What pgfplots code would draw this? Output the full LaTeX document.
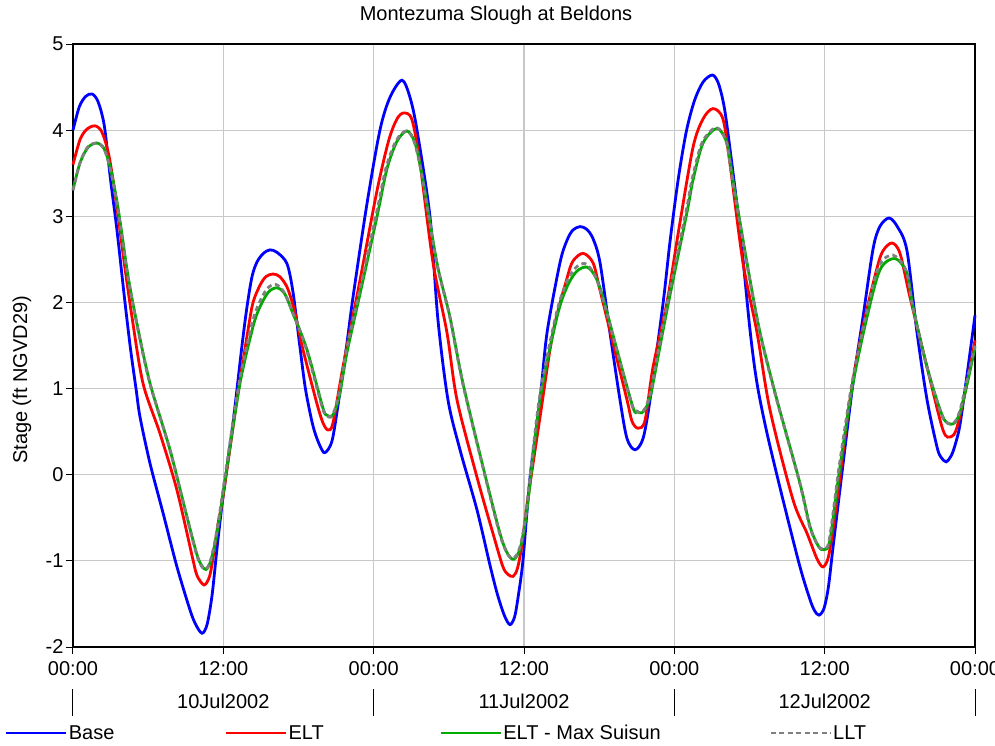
\documentclass[border=0pt]{standalone}
\usepackage{pgfplots}
\pgfplotsset{compat=1.18}
\usepackage{fontspec}
\setmainfont{Liberation Sans}
\definecolor{cBase}{RGB}{0,0,255}
\definecolor{cELT}{RGB}{255,0,0}
\definecolor{cMax}{RGB}{0,170,0}
\definecolor{cLLT}{RGB}{128,128,128}
\definecolor{cGrid}{RGB}{200,200,200}
\begin{document}
\begin{tikzpicture}[font=\fontsize{20}{24}\selectfont]
\begin{axis}[
  at={(0,0)}, anchor=south west,
  scale only axis, width=902pt, height=603pt,
  xmin=0, xmax=72, ymin=-2, ymax=5,
  clip=false,
  axis line style={black, line width=1.5pt},
  xtick={0,12,24,36,48,60,72},
  xticklabels={00:00,12:00,00:00,12:00,00:00,12:00,00:00},
  ytick={-2,-1,0,1,2,3,4,5},
  yticklabels={-2,-1,0,1,2,3,4,5},
  tick pos=left, tick align=outside,
  major tick length=7pt,
  tick style={black, line width=1pt},
  grid=major,
  major grid style={cGrid, line width=1.2pt},
  xticklabel style={yshift=-4pt},
  yticklabel style={xshift=1pt},
  title={Montezuma Slough at Beldons},
  title style={at={(axis description cs:0.5,1)}, anchor=center, yshift=23pt, xshift=-28pt},
  ylabel={Stage (ft NGVD29)},
  ylabel style={at={(axis description cs:-0.0565,0.443)}, anchor=center},
  legend columns=4,
  legend style={at={(axis description cs:-0.0754,-0.1426)}, anchor=west,
    draw=none, fill=none, inner sep=0pt, outer sep=0pt,
    nodes={inner sep=0pt, outer sep=0pt},
    /tikz/every odd column/.append style={column sep=1pt}},
  legend cell align=left,
  legend image code/.code={\draw[#1] (0pt,0pt) -- (60pt,0pt);},
  every axis plot/.append style={line width=2.8pt, smooth, tension=0.5},
]
\addplot[cBase] coordinates {
(0,4.00) (0.5,4.27) (1.0,4.39) (1.52,4.42) (2.0,4.33) (2.5,4.05) (3.0,3.42)
(3.5,2.85) (4.15,2.0) (4.6,1.45) (5.03,1.0) (5.35,0.67) (6.15,0.13) (7.18,-0.44)
(8.3,-1.07) (9.34,-1.57) (9.8,-1.74) (10.3,-1.84) (10.7,-1.74) (11.1,-1.4)
(11.5,-0.85) (11.97,-0.26) (12.77,0.6) (13.49,1.5) (13.89,1.95) (14.29,2.3)
(14.69,2.47) (15.2,2.57) (15.72,2.61) (16.3,2.58) (17.08,2.45) (17.56,2.12)
(18.1,1.5) (18.55,1.0) (19.1,0.6) (19.5,0.41) (20.0,0.26) (20.4,0.3) (20.75,0.44)
(21.3,0.95) (21.87,1.53) (22.35,2.06) (23.47,3.15) (24.5,4.0) (25.3,4.38)
(26.26,4.58) (26.9,4.38) (27.46,4.0) (28.5,2.99) (29.13,1.8) (29.93,0.87)
(30.89,0.29) (32.25,-0.41) (33.3,-1.06) (33.9,-1.4) (34.45,-1.64) (34.88,-1.74)
(35.25,-1.65) (35.55,-1.4) (35.92,-0.99) (36.48,-0.03) (37.28,0.87) (37.84,1.65)
(38.87,2.46) (39.43,2.72) (39.9,2.84) (40.47,2.88) (41.0,2.85) (41.51,2.74)
(42.07,2.46) (42.86,1.65) (43.66,0.87) (44.22,0.42) (44.86,0.29) (45.5,0.42)
(46.06,0.87) (47.1,1.99) (47.65,2.7) (48.3,3.42) (48.95,3.98) (49.6,4.34) (50.3,4.56)
(51.04,4.64) (51.5,4.55) (51.9,4.33) (52.25,4.0) (53.24,2.84) (54.04,1.68) (54.6,1.06) (55.4,0.48)
(56.67,-0.29) (58.03,-1.07) (58.83,-1.45) (59.2,-1.58) (59.55,-1.63)
(59.95,-1.55) (60.3,-1.3) (60.66,-0.85) (61.38,0.02) (62.26,1.06) (63.06,1.83)
(63.86,2.62) (64.4,2.88) (65.13,2.98) (65.8,2.88) (66.57,2.6) (67.37,1.65)
(68.17,0.87) (68.97,0.32) (69.3,0.2) (69.7,0.15) (70.1,0.22) (70.4,0.34)
(70.8,0.58) (71.4,1.2) (72,1.85)
};
\addlegendentry{\makebox[156pt][l]{Base}}
\addplot[cELT] coordinates {
(0,3.6) (0.56,3.89) (1.1,4.01) (1.76,4.05) (2.3,3.98) (2.8,3.75) (3.2,3.42)
(3.6,3.0) (4.1,2.45) (4.71,1.83) (5.59,1.06) (6.94,0.48) (8.3,-0.18)
(9.58,-0.99) (9.9,-1.17) (10.46,-1.28) (10.9,-1.18) (11.25,-0.9) (11.6,-0.55)
(11.97,-0.26) (13.09,0.87) (13.97,1.68) (14.37,2.0) (14.93,2.2) (15.4,2.3)
(15.96,2.33) (16.5,2.3) (17.08,2.18) (17.56,1.97) (17.96,1.72) (18.36,1.45)
(19.48,0.82) (19.96,0.6) (20.35,0.52) (20.75,0.6) (21.55,1.25) (22.91,2.26)
(24.27,3.3) (25.2,3.88) (25.86,4.13) (26.42,4.2) (27.06,4.12) (27.7,3.61)
(28.74,2.46) (29.85,1.65) (30.65,0.87) (32.25,-0.03) (33.52,-0.68) (34.32,-1.07)
(34.75,-1.16) (35.12,-1.18) (35.45,-1.1) (35.8,-0.85) (36.24,-0.35) (37.28,0.67)
(38.31,1.65) (39.43,2.28) (39.91,2.48) (40.71,2.57) (41.51,2.46) (42.07,2.14)
(43.1,1.53) (44.22,0.87) (44.62,0.62) (45.1,0.54) (45.66,0.63) (46.3,1.25)
(47.41,2.0) (48.35,2.84) (49.49,3.8) (50.29,4.13) (51.09,4.25) (51.88,4.13)
(52.44,3.61) (53.48,2.46) (54.6,1.65) (55.64,0.75) (57.47,-0.29) (58.59,-0.68)
(59.4,-0.98) (59.87,-1.07) (60.27,-0.97) (60.6,-0.7) (60.98,-0.3) (62.02,0.87)
(63.06,1.72) (64.18,2.4) (64.66,2.6) (65.37,2.69) (66.01,2.57) (66.81,2.06)
(68.17,1.25) (69.44,0.52) (70.08,0.44) (70.56,0.55) (71.36,1.06) (72,1.56)
};
\addlegendentry{\makebox[151pt][l]{ELT}}
\addplot[cMax] coordinates {
(0,3.31) (0.56,3.62) (1.2,3.8) (1.92,3.85) (2.5,3.78) (3.0,3.55) (3.5,3.18)
(3.9,2.8) (4.4,2.3) (5.11,1.75) (6.15,1.06) (7.74,0.29) (9.1,-0.49) (9.9,-0.93)
(10.3,-1.06) (10.62,-1.1) (10.95,-1.02) (11.3,-0.82) (11.7,-0.5) (12.29,0.09)
(13.33,1.06) (14.37,1.72) (14.93,1.95) (15.6,2.12) (16.28,2.17) (16.9,2.1)
(17.56,1.87) (18.68,1.45) (19.96,0.77) (20.3,0.69) (20.59,0.67) (20.9,0.74)
(21.31,0.95) (21.87,1.42) (22.91,2.1) (24.27,3.0) (25.06,3.55) (25.86,3.87)
(26.66,3.99) (27.3,3.85) (27.94,3.42) (29.05,2.46) (30.09,1.83) (31.13,1.06)
(32.73,0.09) (34.08,-0.68) (34.7,-0.92) (35.2,-0.98) (35.7,-0.85) (36.2,-0.45)
(37.28,0.87) (38.63,1.83) (39.43,2.18) (40.2,2.36) (41.03,2.41) (41.7,2.3)
(42.3,2.06) (43.42,1.45) (44.7,0.78) (45.05,0.73) (45.42,0.72) (45.75,0.78)
(46.06,0.9) (46.3,1.06) (47.41,1.91) (49.0,3.04) (49.49,3.42) (50.29,3.85)
(51.4,4.02) (52.2,3.85) (52.68,3.42) (53.8,2.46) (54.84,1.65) (56.19,0.87)
(58.03,-0.1) (58.83,-0.6) (59.5,-0.83) (59.95,-0.87) (60.42,-0.76) (61.22,0.09)
(62.26,1.06) (63.38,1.83) (64.42,2.38) (65.61,2.51) (66.57,2.34) (67.05,1.95)
(68.17,1.25) (69.44,0.67) (70.24,0.59) (70.8,0.72) (71.44,1.1) (72,1.48)
};
\addlegendentry{\makebox[266pt][l]{ELT - Max Suisun}}
\addplot[cLLT, dash pattern=on 5pt off 3.5pt] coordinates {
(0,3.3) (0.56,3.62) (1.15,3.8) (1.85,3.85) (2.45,3.79) (2.95,3.56) (3.45,3.2)
(3.85,2.82) (4.35,2.32) (5.05,1.78) (6.1,1.08) (7.7,0.31) (9.05,-0.47)
(9.85,-0.92) (10.25,-1.06) (10.55,-1.1) (10.9,-1.03) (11.25,-0.83) (11.65,-0.5)
(12.25,0.1) (13.28,1.08) (14.3,1.76) (14.85,1.99) (15.5,2.16) (16.15,2.21)
(16.8,2.13) (17.5,1.9) (18.6,1.47) (19.9,0.78) (20.25,0.69) (20.52,0.67)
(20.85,0.74) (21.25,0.95) (21.82,1.44) (22.85,2.12) (24.2,3.02) (25.0,3.57)
(25.8,3.88) (26.6,3.99) (27.25,3.86) (27.9,3.43) (29.0,2.48) (30.05,1.85)
(31.08,1.08) (32.68,0.11) (34.03,-0.67) (34.65,-0.91) (35.15,-0.97) (35.65,-0.85)
(36.15,-0.45) (37.22,0.88) (38.55,1.85) (39.35,2.22) (40.1,2.4) (40.9,2.45)
(41.6,2.33) (42.22,2.08) (43.36,1.47) (44.64,0.8) (45.0,0.74) (45.36,0.72)
(45.7,0.78) (46.0,0.9) (46.25,1.07) (47.35,1.93) (48.94,3.06) (49.43,3.44)
(50.23,3.86) (51.35,4.03) (52.15,3.86) (52.63,3.43) (53.75,2.48) (54.79,1.67)
(56.13,0.89) (57.98,-0.08) (58.78,-0.59) (59.45,-0.82) (59.9,-0.86) (60.36,-0.76)
(61.16,0.1) (62.2,1.08) (63.32,1.86) (64.33,2.42) (65.45,2.55) (66.5,2.37)
(67.0,1.97) (68.12,1.27) (69.38,0.68) (70.18,0.59) (70.74,0.72) (71.4,1.12) (72,1.5)
};
\addlegendentry{LLT}
\draw[black, line width=1pt] (axis cs:0,-2.49) -- (axis cs:0,-2.80);
\draw[black, line width=1pt] (axis cs:24,-2.49) -- (axis cs:24,-2.80);
\draw[black, line width=1pt] (axis cs:48,-2.49) -- (axis cs:48,-2.80);
\draw[black, line width=1pt] (axis cs:72,-2.49) -- (axis cs:72,-2.80);
\node at (axis cs:12,-2) [yshift=-54pt] {10Jul2002};
\node at (axis cs:36,-2) [yshift=-54pt] {11Jul2002};
\node at (axis cs:60,-2) [yshift=-54pt] {12Jul2002};
\end{axis}
\pgfresetboundingbox
\useasboundingbox (-73pt,-98pt) rectangle (922pt,647pt);
\end{tikzpicture}
\end{document}
